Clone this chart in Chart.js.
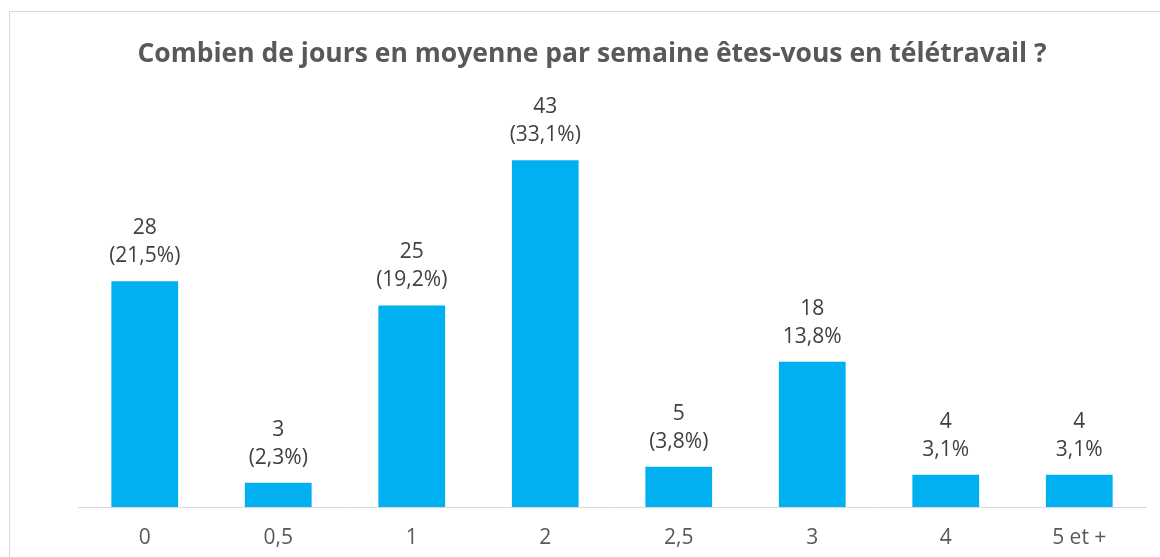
<!DOCTYPE html>
<html>
<head>
<meta charset="utf-8">
<script src="https://cdn.jsdelivr.net/npm/chart.js@4"></script>
<style>
  html, body { margin: 0; padding: 0; background: #fff; }
  #frame { position: absolute; left: 9px; top: 11px; width: 1160px; height: 560px; border: 1px solid #d9d9d9; }
  #wrap { position: absolute; left: 0; top: 0; width: 1160px; height: 557px; }
</style>
</head>
<body>
<div id="frame"></div>
<div id="wrap"><canvas id="teleChart" width="1160" height="557"></canvas></div>
<script>
const categories = ['0', '0,5', '1', '2', '2,5', '3', '4', '5 et +'];
const counts = [28, 3, 25, 43, 5, 18, 4, 4];
const percentLabels = ['(21,5%)', '(2,3%)', '(19,2%)', '(33,1%)', '(3,8%)', '13,8%', '3,1%', '3,1%'];

const textColor = '#595959';
const fontFamily = "'Open Sans', 'DejaVu Sans', sans-serif";

// draws the two-line label above every bar
const barLabels = {
    id: 'barLabels',
    afterDatasetsDraw(chart) {
        const ctx = chart.ctx;
        const meta = chart.getDatasetMeta(0);
        ctx.save();
        ctx.fillStyle = '#404040';
        ctx.font = '21px ' + fontFamily;
        ctx.textAlign = 'center';
        ctx.textBaseline = 'middle';
        meta.data.forEach((bar, i) => {
            ctx.fillText(percentLabels[i], bar.x, bar.y - 25);
            ctx.fillText(String(counts[i]), bar.x, bar.y - 53);
        });
        ctx.restore();
    }
};

const ctx = document.getElementById('teleChart').getContext('2d');
new Chart(ctx, {
    type: 'bar',
    data: {
        labels: categories,
        datasets: [{
            data: counts,
            backgroundColor: '#00b0f0',
            categoryPercentage: 1,
            barPercentage: 0.5
        }]
    },
    plugins: [barLabels],
    options: {
        responsive: false,
        animation: false,
        layout: { padding: { left: 38, right: 14, top: 0, bottom: 0 } },
        plugins: {
            legend: { display: false },
            tooltip: { enabled: false },
            title: {
                display: true,
                text: 'Combien de jours en moyenne par semaine êtes-vous en télétravail ?',
                color: textColor,
                font: { family: fontFamily, size: 26.5, weight: 'bold' },
                padding: { top: 39, bottom: 33 }
            }
        },
        scales: {
            x: {
                grid: { display: false, drawTicks: false },
                border: { display: true, color: '#d9d9d9', width: 1 },
                ticks: { color: textColor, font: { family: fontFamily, size: 21 }, padding: 18 },
                afterFit(scale) { scale.height = 50; }
            },
            y: {
                min: 0,
                max: 50,
                grid: { display: false, drawTicks: false },
                border: { display: false },
                ticks: { display: false },
                afterFit(scale) { scale.width = 40; }
            }
        }
    }
});
</script>
</body>
</html>
